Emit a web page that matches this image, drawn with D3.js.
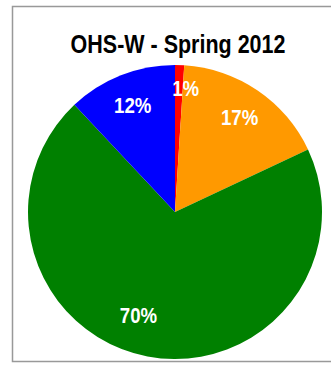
<!DOCTYPE html>
<meta charset="utf-8">
<script src="https://d3js.org/d3.v7.min.js"></script>
<style>
  body { margin: 0; background: #fff; }
</style>
<div id="my_dataviz"></div>
<script>
    // data
    var title = "OHS-W - Spring 2012";
    var categories = ["A", "B", "C", "D"];
    var values = [1, 17, 70, 12];
    var colors = ["#ff0000", "#ff9900", "#008000", "#0000ff"];

    var width = 331, height = 365;
    var cx = 175, cy = 212, radius = 147;
    // small manual nudges for labels that Excel moved away from the centroid
    var labelNudge = [[7, -9], [0, 0], [-15, -10], [0, 0]];
    // no narrow font installed, so squeeze the regular one
    var fontFamily = "'Liberation Sans', Arial, sans-serif";

    var svg = d3.select("#my_dataviz")
      .append("svg")
        .attr("width", width)
        .attr("height", height);

    // chart frame (right side runs off the picture)
    svg.append("rect")
        .attr("x", 12.5)
        .attr("y", 6.5)
        .attr("width", 400)
        .attr("height", 355)
        .attr("fill", "none")
        .attr("stroke", "#999")
        .attr("stroke-width", 1.5);

    svg.append("text")
        .attr("transform", "translate(178,53) scale(0.86,1)")
        .attr("text-anchor", "middle")
        .style("font-family", fontFamily)
        .style("font-weight", "bold")
        .style("font-size", "25px")
        .text(title);

    var pie = d3.pie()
        .sort(null)
        .value(function(d) { return d; });

    var arcs = pie(values);

    var arc = d3.arc()
        .innerRadius(0)
        .outerRadius(radius);

    var labelArc = d3.arc()
        .innerRadius(115)
        .outerRadius(115);

    var g = svg.append("g")
        .attr("transform", "translate(" + cx + "," + cy + ")");

    g.selectAll("path")
      .data(arcs)
      .enter()
      .append("path")
        .attr("d", arc)
        .attr("fill", function(d, i) { return colors[i]; });

    g.selectAll("text")
      .data(arcs)
      .enter()
      .append("text")
        .attr("transform", function(d, i) {
          var c = labelArc.centroid(d);
          return "translate(" + (c[0] + labelNudge[i][0]) + "," + (c[1] + labelNudge[i][1]) + ") scale(0.81,1)";
        })
        .attr("text-anchor", "middle")
        .attr("dy", "0.35em")
        .attr("fill", "#fff")
        .style("font-family", fontFamily)
        .style("font-weight", "bold")
        .style("font-size", "23px")
        .text(function(d) { return d.data + "%"; });
</script>
